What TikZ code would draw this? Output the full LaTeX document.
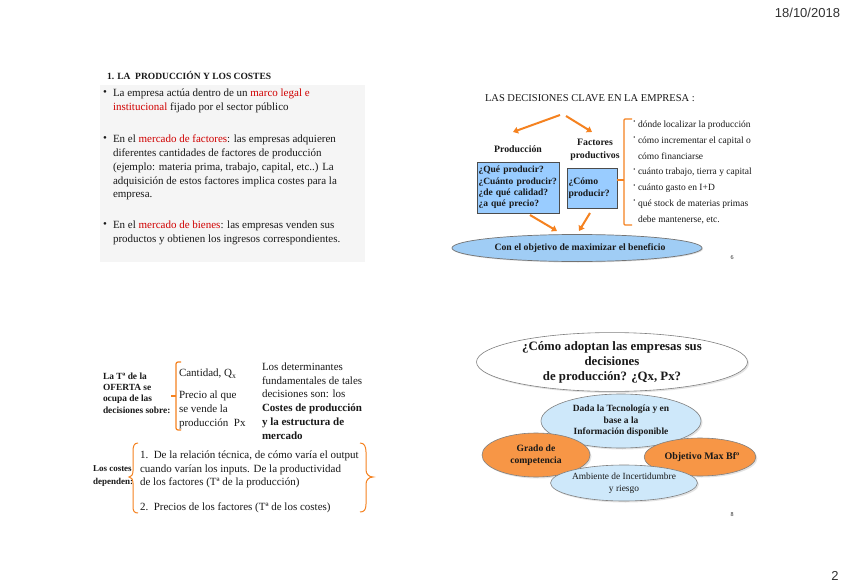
\documentclass[tikz,border=0pt]{standalone}
\usepackage{fontspec}
\setmainfont{Liberation Serif}
\newfontfamily\sansf{Liberation Sans}
\usetikzlibrary{arrows.meta,shapes.geometric,shadows}
\definecolor{orA}{RGB}{245,130,32}
\definecolor{orF}{RGB}{247,150,70}
\definecolor{blF}{RGB}{153,204,255}
\definecolor{blE}{RGB}{160,205,245}
\definecolor{blL}{RGB}{206,232,250}
\definecolor{redT}{RGB}{208,0,0}
\definecolor{grayBG}{RGB}{245,245,245}
\definecolor{txt}{RGB}{25,25,25}
\newcommand\myfs[2]{\fontsize{#1}{#2}\selectfont}
\begin{document}
\begin{tikzpicture}[x=1pt,y=-1pt,
  every node/.style={inner sep=0pt, outer sep=0pt, text=txt},
  bodytxt/.style={anchor=west, align=left, font=\myfs{11}{13.8}},
  bluebox/.style={draw=black!70, fill=blF, line width=0.8pt, drop shadow={opacity=0.35,shadow xshift=1.2pt,shadow yshift=-1.2pt}},
  orarrow/.style={draw=orA, line width=2pt, -{Triangle[length=5pt,width=6.5pt]}},
  orline/.style={draw=orA, line width=1.2pt},
  ell/.style={ellipse, draw=black!50, line width=0.6pt, drop shadow={opacity=0.22,shadow xshift=1.5pt,shadow yshift=-1.5pt}},
]
\path[fill=white] (0,0) rectangle (848,588);
\useasboundingbox (0,0) rectangle (848,588);

% header / footer
\node[anchor=east, font=\sansf\myfs{13}{15}, text=black!80] (date) at (840,13) {18/10/2018};
\node[font=\sansf\myfs{13}{15}, text=black!80] (pg) at (835,576) {2};

% ---------- top left ----------
\node[anchor=west, font=\bfseries\myfs{9.5}{11}] (t1) at (107,75) {1. LA\ \ PRODUCCIÓN Y LOS COSTES};
\node[fill=grayBG, minimum width=265pt, minimum height=177pt, anchor=north west] (bg) at (100,85) {};
\node[anchor=west, font=\myfs{11}{13}] (d1) at (103,93) {•};
\node[bodytxt] (p1) at (113,101) {La empresa actúa dentro de un \textcolor{redT}{marco legal e}\\\textcolor{redT}{institucional} fijado por el sector público};
\node[anchor=west, font=\myfs{11}{13}] (d2) at (103,139) {•};
\node[bodytxt] (p2) at (113,167.5) {En el \textcolor{redT}{mercado de factores}: las empresas adquieren\\diferentes cantidades de factores de producción\\(ejemplo: materia prima, trabajo, capital, etc..) La\\adquisición de estos factores implica costes para la\\empresa.};
\node[anchor=west, font=\myfs{11}{13}] (d3) at (103,225) {•};
\node[bodytxt] (p3) at (113,233) {En el \textcolor{redT}{mercado de bienes}: las empresas venden sus\\productos y obtienen los ingresos correspondientes.};

% ---------- top right ----------
\node[anchor=west, font=\myfs{10.5}{12}] (dec) at (485,98) {LAS DECISIONES CLAVE EN LA EMPRESA :};
\coordinate (a1s) at (560,115); \coordinate (a1e) at (513,132);
\coordinate (a2s) at (566,116); \coordinate (a2e) at (592,132);
\draw[orarrow] (a1s) -- (a1e);
\draw[orarrow] (a2s) -- (a2e);
\node[font=\bfseries\myfs{9.8}{11}] (prod) at (518,149) {Producción};
\node[font=\bfseries\myfs{9.8}{12.5}, align=center] (fac) at (595,150) {Factores\\productivos};
\node[bluebox, anchor=north west, text width=79pt, inner xsep=1.5pt, minimum height=51pt, align=left, font=\bfseries\myfs{9.5}{11.4}] (q1) at (477,162) {\hyphenpenalty=10000 ¿Qué producir?\\¿Cuánto producir?\\¿de qué calidad?\\¿a qué precio?};
\node[bluebox, anchor=north west, text width=47pt, inner xsep=1.5pt, minimum height=40pt, align=left, font=\bfseries\myfs{9.7}{12}] (q2) at (567,168) {¿Cómo\\producir?};
\draw[orline, rounded corners=1pt] (632,119) -- (624,119) -- (624,225) -- (632,225);
\coordinate (brk) at (624,180);
\draw[orline] (brk) -- (q2.east |- brk);
\foreach \i/\yy/\txt in {1/125/{dónde localizar la producción},2/140.8/{cómo incrementar el capital o},3/156.6/{cómo financiarse},4/172.4/{cuánto trabajo, tierra y capital},5/188.2/{cuánto gasto en I+D},6/204/{qué stock de materias primas},7/219.8/{debe mantenerse, etc.}}
  \node[anchor=west, font=\myfs{9.5}{11}] (r\i) at (638,\yy) {\txt};
\foreach \i/\yy in {1/125,2/140.8,4/172.4,5/188.2,6/204}
  \node[font=\myfs{6}{7}] (rb\i) at (634.5,\yy-2.5) {•};
\coordinate (b1s) at (530,215); \coordinate (b1e) at (557,231);
\coordinate (b2s) at (590,213); \coordinate (b2e) at (579,231);
\draw[orarrow] (b1s) -- (b1e);
\draw[orarrow] (b2s) -- (b2e);
\node[ellipse, draw=black!55, line width=0.7pt, fill=blE, minimum width=206pt, minimum height=27pt, font=\bfseries\myfs{9.7}{11}, drop shadow={opacity=0.25,shadow xshift=1pt,shadow yshift=-1pt}] (obj) at (577,248) {\hspace{6pt}Con el objetivo de maximizar el beneficio};
\node[font=\myfs{6}{7}] (n6) at (732,258) {6};

% ---------- bottom left ----------
\node[anchor=west, align=left, font=\bfseries\myfs{9.4}{11.3}] (oferta) at (103,393) {La Tª de la\\OFERTA se\\ocupa de las\\decisiones sobre:};
\draw[orline, rounded corners=2pt] (181,362) -- (176,362) -- (176,430) -- (181,430);
\coordinate (okt) at (171,396);
\draw[orline] (176,396) -- (okt);
\node[anchor=west, font=\myfs{11}{13}] (cant) at (179,374) {Cantidad, Q\textsubscript{x}};
\node[anchor=west, align=left, font=\myfs{11}{14}] (precio) at (179,410) {Precio al que\\se vende la\\producción\ \ Px};
\node[anchor=west, align=left, font=\myfs{11}{13.8}] (det) at (262,401) {Los determinantes\\fundamentales de tales\\decisiones son: los\\\textbf{Costes de producción}\\\textbf{y la estructura de}\\\textbf{mercado}};
\node[anchor=west, align=left, font=\bfseries\myfs{9}{13.5}] (costes) at (93,476) {Los costes\\dependen:};
\draw[orline, line width=1pt] (138,443) .. controls (134,443) and (133,446) .. (133,452) -- (133,471) .. controls (133,475) and (131,477) .. (129,477) .. controls (131,477) and (133,479) .. (133,483) -- (133,506) .. controls (133,511) and (134,513) .. (138,513);
\node[anchor=west, align=left, font=\myfs{11}{13.5}] (c1) at (140,469.5) {1.\ \ De la relación técnica, de cómo varía el output\\cuando varían los inputs. De la productividad\\de los factores (Tª de la producción)};
\node[anchor=west, font=\myfs{11}{13.5}] (c2) at (140,508) {2.\ \ Precios de los factores (Tª de los costes)};
\draw[orline, line width=1pt] (360,443) .. controls (364,443) and (366,446) .. (366,452) -- (366,470) .. controls (366,474) and (369,477) .. (373,477) .. controls (369,477) and (366,480) .. (366,484) -- (366,504) .. controls (366,510) and (364,512) .. (360,512);

% ---------- bottom right ----------
\node[ell, fill=white, minimum width=271pt, minimum height=56pt, align=center, font=\bfseries\myfs{12.8}{15}] (big) at (612,362) {¿Cómo adoptan las empresas sus\\decisiones\\de producción? ¿Qx, Px?};
\node[ell, fill=blL, minimum width=160pt, minimum height=54pt, align=center, font=\bfseries\myfs{9.5}{11.3}] (tec) at (621,421) {Dada la Tecnología y en\\base a la\\Información disponible};
\node[ell, fill=orF, minimum width=108pt, minimum height=44pt, align=center, font=\bfseries\myfs{9.6}{12}] (grado) at (536,455) {Grado de\\competencia};
\node[ell, fill=orF, minimum width=104pt, minimum height=38pt, align=center, font=\bfseries\myfs{10}{12}] (maxb) at (700,457) {\hspace{4pt}Objetivo Max Bfº};
\node[ell, fill=blL, minimum width=132pt, minimum height=36pt, align=center, font=\myfs{9.4}{11.5}] (amb) at (624,483) {Ambiente de Incertidumbre\\y riesgo};
\node[font=\myfs{6}{7}] (n8) at (732,515) {8};
\end{tikzpicture}
\end{document}
